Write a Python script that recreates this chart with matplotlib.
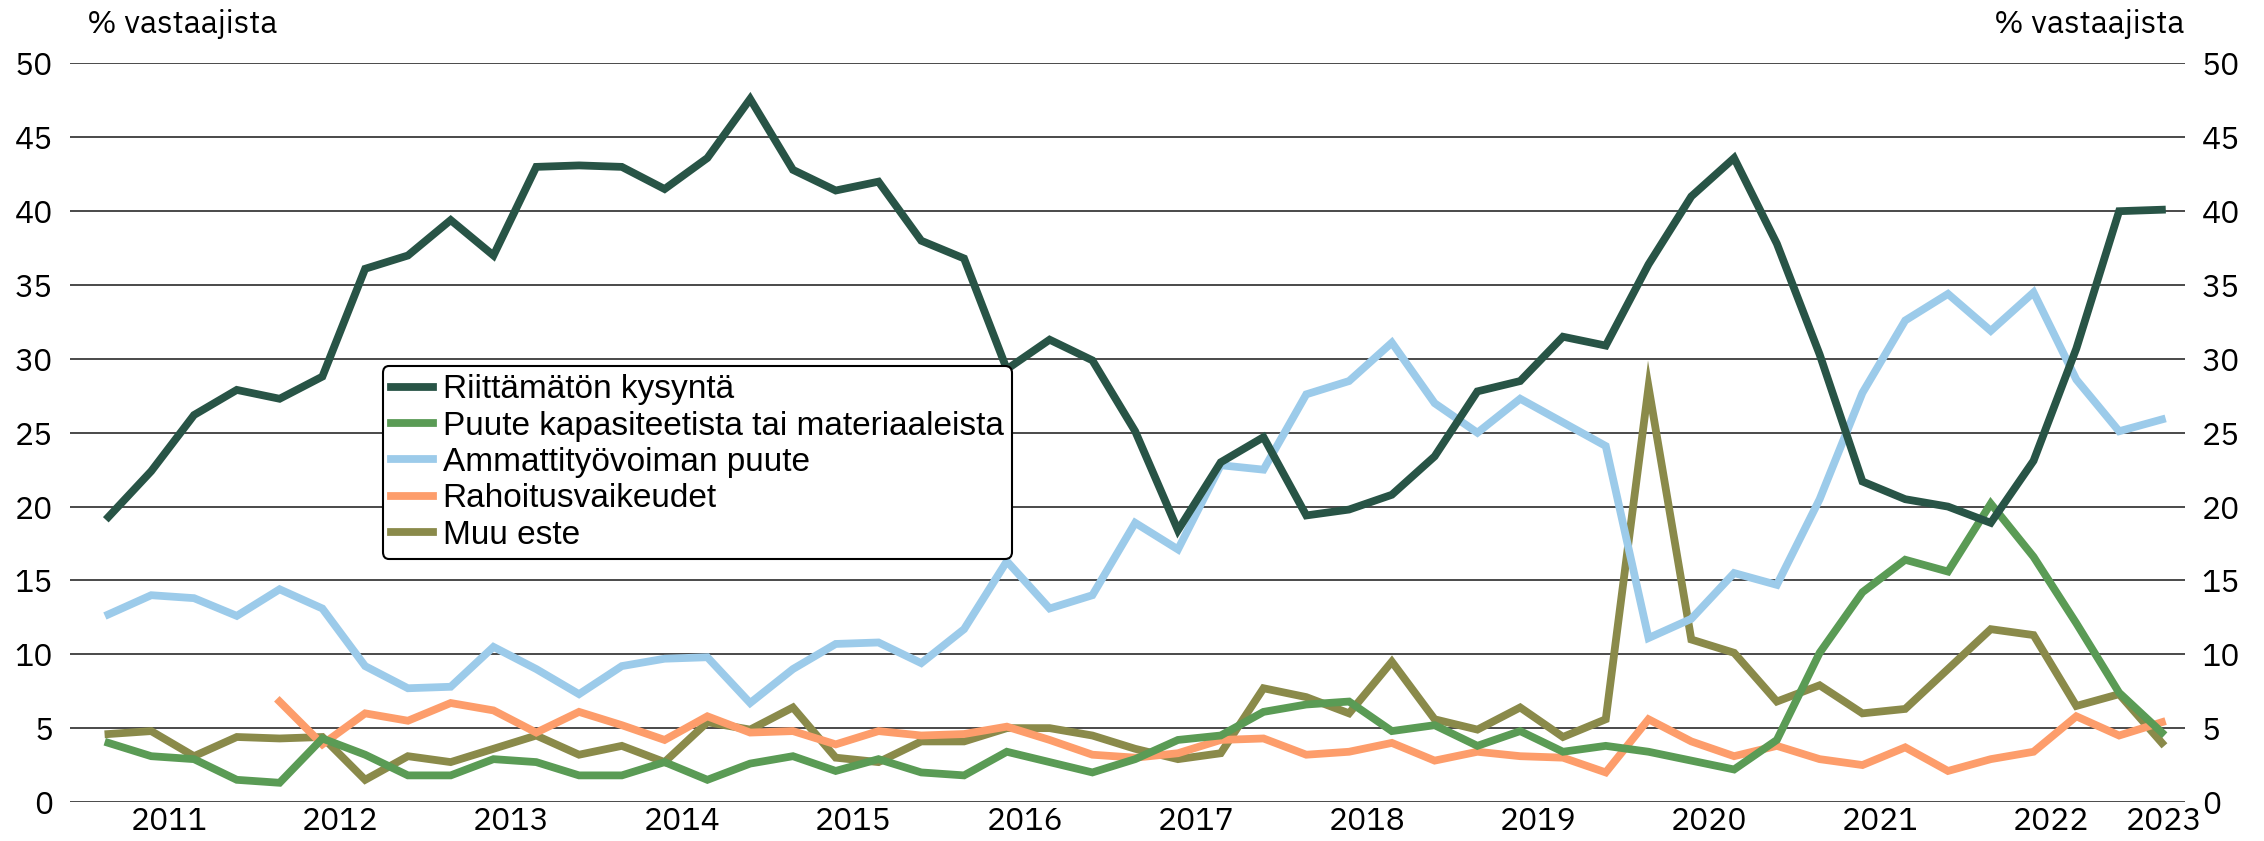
import numpy as np
import matplotlib
matplotlib.use("Agg")
import matplotlib.pyplot as plt

# quarterly survey, first round autumn 2010, last round autumn 2022
start_year = 2010.645
n_points = 49

kysynta = [19.3, 22.4, 26.2, 27.9, 27.3, 28.8, 36.1, 37.0, 39.4, 37.0,
           43.0, 43.1, 43.0, 41.5, 43.6, 47.6, 42.8, 41.4, 42.0, 38.0,
           36.8, 29.3, 31.3, 29.9, 25.1, 18.4, 23.0, 24.7, 19.4, 19.8,
           20.8, 23.4, 27.8, 28.5, 31.5, 30.9, 36.4, 41.0, 43.6, 37.8,
           30.3, 21.7, 20.5, 20.0, 18.9, 23.1, 30.7, 40.0, 40.1]

kapasiteetti = [4.0, 3.1, 2.9, 1.5, 1.3, 4.3, 3.2, 1.8, 1.8, 2.9,
                2.7, 1.8, 1.8, 2.7, 1.5, 2.6, 3.1, 2.1, 2.9, 2.0,
                1.8, 3.4, 2.7, 2.0, 2.9, 4.2, 4.5, 6.1, 6.6, 6.8,
                4.8, 5.2, 3.8, 4.8, 3.4, 3.8, 3.4, 2.8, 2.2, 4.2,
                10.1, 14.2, 16.4, 15.6, 20.2, 16.6, 12.1, 7.4, 4.7]

ammattityovoima = [12.7, 14.0, 13.8, 12.6, 14.4, 13.1, 9.2, 7.7, 7.8, 10.5,
                   9.0, 7.3, 9.2, 9.7, 9.8, 6.7, 9.0, 10.7, 10.8, 9.4,
                   11.7, 16.3, 13.1, 14.0, 18.9, 17.1, 22.8, 22.5, 27.6, 28.5,
                   31.1, 27.0, 25.0, 27.3, 25.7, 24.1, 11.1, 12.4, 15.5, 14.7,
                   20.5, 27.7, 32.6, 34.4, 31.9, 34.5, 28.6, 25.1, 25.9]

rahoitus = [None, None, None, None, 6.8, 3.9, 6.0, 5.5, 6.7, 6.2,
            4.7, 6.1, 5.2, 4.2, 5.8, 4.7, 4.8, 3.9, 4.8, 4.5,
            4.6, 5.1, 4.2, 3.2, 3.0, 3.3, 4.2, 4.3, 3.2, 3.4,
            4.0, 2.8, 3.4, 3.1, 3.0, 2.0, 5.6, 4.1, 3.1, 3.8,
            2.9, 2.5, 3.7, 2.1, 2.9, 3.4, 5.8, 4.5, 5.4]

muu = [4.6, 4.8, 3.1, 4.4, 4.3, 4.4, 1.5, 3.1, 2.7, 3.6,
       4.5, 3.2, 3.8, 2.7, 5.4, 4.9, 6.4, 3.0, 2.7, 4.1,
       4.1, 5.0, 5.0, 4.5, 3.6, 2.9, 3.3, 7.7, 7.1, 6.0,
       9.5, 5.6, 4.9, 6.4, 4.4, 5.6, 28.1, 11.0, 10.1, 6.8,
       7.9, 6.0, 6.3, 9.0, 11.7, 11.3, 6.5, 7.3, 4.0]

labels = ["Riittämätön kysyntä", "Puute kapasiteetista tai materiaaleista",
          "Ammattityövoiman puute", "Rahoitusvaikeudet", "Muu este"]
colors = ["#285446", "#5a9b55", "#9ccbea", "#fd9d6b", "#8a8a4a"]

years = list(range(2011, 2024))

x = start_year + 0.25 * np.arange(n_points)

fig = plt.figure(figsize=(22.64, 8.41), dpi=100)
ax = fig.add_axes([0.0309, 0.0464, 0.9342, 0.8781])

tick_font = ["IBM Plex Sans", "DejaVu Sans"]
fs = 23

for yv in range(0, 51, 5):
    ax.axhline(yv, color="#4a4a4a", lw=1.4, zorder=1)

series = [kysynta, kapasiteetti, ammattityovoima, rahoitus, muu]
order = [2, 3, 4, 1, 0]
handles = {}
for k in order:
    vals = np.array([np.nan if v is None else v for v in series[k]])
    ln, = ax.plot(x, vals, color=colors[k], lw=5.6, label=labels[k],
                  solid_joinstyle="miter", zorder=3 + (4 - k) * 0.1)
    handles[k] = ln

ax.set_ylim(0, 50)
ax.set_xlim(2010.42, 2022.78)
for s in ax.spines.values():
    s.set_visible(False)

ax.set_yticks(range(0, 51, 5))
ax.tick_params(axis="y", length=0, labelsize=fs, pad=12,
               labelleft=True, labelright=True)
for t in ax.yaxis.get_major_ticks():
    t.label1.set_fontfamily(tick_font)
    t.label2.set_fontfamily(tick_font)

# last label squeezed in at the right end of the axis
xt = [float(y) for y in years[:-1]] + [2022.66]
ax.set_xticks(xt)
ax.set_xticklabels([str(y) for y in years], fontsize=fs, family=tick_font)
ax.tick_params(axis="x", length=0, pad=3)

fig.text(0.0385, 0.972, "% vastaajista", fontsize=fs, family=tick_font,
         ha="left", va="center")
fig.text(0.965, 0.972, "% vastaajista", fontsize=fs, family=tick_font,
         ha="right", va="center")

leg = ax.legend([handles[k] for k in range(5)], labels,
                loc="upper left", bbox_to_anchor=(0.169, 0.565),
                bbox_transform=fig.transFigure,
                prop={"family": "Liberation Sans", "size": 24},
                frameon=True, fancybox=True, handlelength=1.25,
                handletextpad=0.3, labelspacing=0.16, borderpad=0.25,
                borderaxespad=0)
leg.get_frame().set_edgecolor("black")
leg.get_frame().set_linewidth(1.5)
leg.get_frame().set_alpha(1)
leg.set_zorder(10)

fig.savefig("out.png", dpi=100)
